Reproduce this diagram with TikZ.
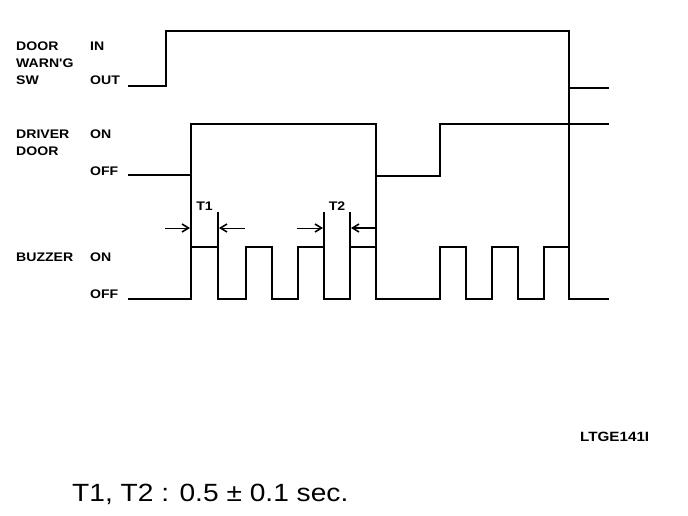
\documentclass[tikz,border=0pt]{standalone}
\usepackage{fontspec}
\setmainfont{Liberation Sans}
\newfontfamily\wavefont[FakeStretch=1.13]{Liberation Sans}
\usetikzlibrary{arrows.meta}

\begin{document}
\begin{tikzpicture}[x=1bp,y=-1bp,
	wave/.style={line width=2bp,line join=miter},
	lbl/.style={anchor=base west,inner sep=0pt,font=\wavefont\bfseries\fontsize{12.5}{14}\selectfont},
	gap/.style={line width=0.9bp,-{Straight Barb[length=6.5bp,width=8bp,line width=1.6bp]}}]
		\useasboundingbox (0,0) rectangle (688,516);
		% signal names and levels
		\path (16,51) node [lbl] (sw1){DOOR};
		\path (16,68) node [lbl] (sw2){WARN'G};
		\path (16,85) node [lbl] (sw3){SW};
		\path (90,51) node [lbl] (swin){IN};
		\path (90,85) node [lbl] (swout){OUT};
		\path (16,139) node [lbl] (dr1){DRIVER};
		\path (16,156) node [lbl] (dr2){DOOR};
		\path (90,139) node [lbl] (dron){ON};
		\path (90,176) node [lbl] (droff){OFF};
		\path (16,262) node [lbl] (bz){BUZZER};
		\path (90,262) node [lbl] (bzon){ON};
		\path (90,298) node [lbl] (bzoff){OFF};
		% waveforms
		\draw[wave] (128,86.5)--(166,86.5)--(166,31)--(569,31)--(569,88)--(609,88);
		\draw[wave] (128,175)--(191,175)--(191,124)--(376,124)--(376,176)--(440,176)--(440,124)--(609,124);
		\draw[wave] (128,299)--(191,299)--(191,247)--(218,247)--(218,299)--(246,299)--(246,247)--(272,247)--(272,299)
			--(298,299)--(298,247)--(324,247)--(324,299)--(350,299)--(350,247)--(376,247)--(376,299)
			--(440,299)--(440,247)--(466,247)--(466,299)--(492,299)--(492,247)--(518,247)--(518,299)
			--(544,299)--(544,247)--(569,247)--(569,299)--(609,299);
		\draw[wave] (191,175)--(191,247);
		\draw[wave] (218,212)--(218,247);
		\draw[wave] (324,212)--(324,247);
		\draw[wave] (350,212)--(350,247);
		\draw[wave] (376,176)--(376,247);
		\draw[wave] (569,88)--(569,247);
		% T1, T2 marks
		\path (204.5,211) node [lbl,anchor=base] (t1){T1};
		\path (337,211) node [lbl,anchor=base] (t2){T2};
		\coordinate (t1l) at (165,228);
		\coordinate (t1a) at (190,228);
		\coordinate (t1r) at (245,228);
		\coordinate (t1b) at (219,228);
		\coordinate (t2l) at (297,228);
		\coordinate (t2a) at (323,228);
		\coordinate (t2r) at (376,228);
		\coordinate (t2b) at (351,228);
		\draw[gap] (t1l)--(t1a);
		\draw[gap] (t1r)--(t1b);
		\draw[gap] (t2l)--(t2a);
		\draw[gap,line width=1.4bp] (t2r)--(t2b);
		% figure number and note
		\path (580,441) node [lbl,font=\wavefont\bfseries\fontsize{13.5}{15}\selectfont] (fig){LTGE141I};
		\path (72,501) node [anchor=base west,inner sep=0pt,font=\wavefont\fontsize{25}{30}\selectfont] (note){T1, T2 : 0.5 ± 0.1 sec.};
\end{tikzpicture}
\end{document}
